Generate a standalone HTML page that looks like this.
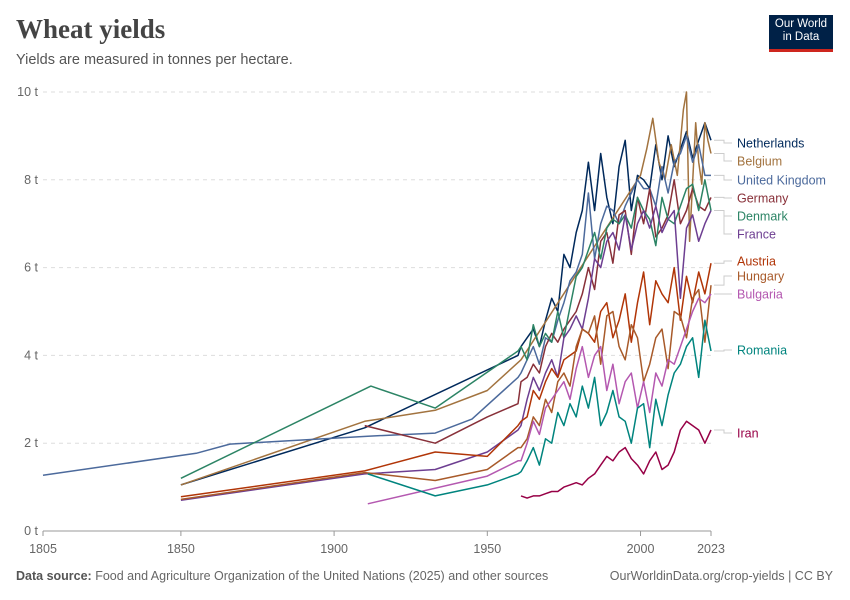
<!DOCTYPE html>
<html><head><meta charset="utf-8"><style>
body{margin:0;background:#fff;font-family:"Liberation Sans",sans-serif;}
#wrap{position:relative;width:850px;height:600px;overflow:hidden;}
</style></head><body>
<div id="wrap">
<div style="position:absolute;left:16px;top:14px;font-family:'Liberation Serif',serif;font-size:27px;color:#444;font-weight:bold;">Wheat yields</div>
<div style="position:absolute;left:16px;top:52px;font-size:14.5px;color:#555;">Yields are measured in tonnes per hectare.</div>
<div style="position:absolute;left:769px;top:15px;width:64px;height:37px;background:#002147;border-bottom:3px solid #ce261e;color:#fff;font-size:11.5px;line-height:13px;text-align:center;padding-top:3px;box-sizing:border-box;">Our World<br>in Data</div>
<svg id="chart" width="850" height="600" style="position:absolute;left:0;top:0"></svg>
<div style="position:absolute;left:16px;top:569px;font-size:12.5px;color:#666;"><b style="color:#555">Data source:</b> Food and Agriculture Organization of the United Nations (2025) and other sources</div>
<div style="position:absolute;right:17px;top:569px;font-size:12.5px;color:#666;">OurWorldinData.org/crop-yields | CC BY</div>
</div>
<script>
const MODERN_YEARS=[1961,1963,1965,1967,1969,1971,1973,1975,1977,1979,1981,1983,1985,1987,1989,1991,1993,1995,1997,1999,2001,2003,2005,2007,2009,2011,2013,2015,2017,2019,2021,2023];
const nlYears=[1850,1910,1960].concat(MODERN_YEARS);
const nlValues=[1.05,2.35,4.0, 4.2,4.4,4.6,4.2,4.8,5.3,5.0,6.3,6.0,6.8,7.3,8.4,7.3,8.6,7.6,7.0,8.3,8.9,7.3,8.1,8.0,7.8,8.8,8.0,9.0,8.3,8.7,9.1,8.5,8.9,9.3,8.9];
const ukYears=[1805,1855,1866,1911,1933,1945,1960].concat(MODERN_YEARS);
const ukValues=[1.27,1.77,1.98,2.16,2.23,2.55,3.5, 3.6,3.9,4.2,3.8,4.4,4.3,4.8,5.2,5.7,5.9,6.3,7.7,6.2,7.0,7.4,7.3,7.0,7.4,7.7,8.0,7.8,7.8,7.4,8.3,7.7,8.4,8.6,9.0,8.4,8.8,8.1,8.1];
const beYears=[1850,1910,1933,1950,1961,2000,2002,2004,2006,2008,2010,2012,2014,2015,2016,2018,2019,2020,2021,2022,2023];
const beValues=[1.05,2.5,2.75,3.2,3.9,8.1,8.7,9.4,8.4,8.0,8.8,8.1,9.6,10.0,6.6,9.3,8.4,7.9,9.3,8.9,8.6];
const deYears=[1910,1933,1950,1960].concat(MODERN_YEARS);
const deValues=[2.4,2.0,2.6,2.9, 3.4,3.5,3.8,3.6,4.2,4.5,4.3,4.6,4.8,5.0,5.4,6.0,5.5,6.6,6.8,6.1,7.2,7.3,6.3,7.6,7.0,7.8,6.7,6.9,7.2,8.0,7.0,7.3,7.8,7.4,7.3,7.6];
const dkYears=[1850,1912,1933,1960].concat(MODERN_YEARS);
const dkValues=[1.2,3.3,2.8,4.1, 4.2,3.9,4.7,4.2,4.5,4.3,5.0,4.4,5.1,5.8,6.0,6.4,6.8,6.2,6.9,7.1,7.0,7.2,6.9,7.6,7.3,7.1,6.5,7.6,7.1,7.0,7.4,7.8,7.9,7.3,8.0,7.3];
const frYears=[1850,1910,1933,1950,1960].concat(MODERN_YEARS);
const frValues=[0.7,1.3,1.4,1.8,2.3, 2.4,3.0,3.5,3.2,3.6,3.9,3.5,4.4,4.6,4.9,4.6,5.3,6.2,6.0,6.6,6.8,6.4,7.2,6.4,7.0,7.3,6.9,7.4,6.8,7.1,7.3,5.3,6.9,7.2,6.6,7.0,7.3];
const atYears=[1850,1910,1933,1950,1960].concat(MODERN_YEARS);
const atValues=[0.78,1.37,1.8,1.7,2.4, 2.5,2.6,3.2,3.0,3.4,3.7,3.5,3.9,4.0,4.1,4.6,4.5,4.3,5.0,5.2,4.4,4.8,5.4,4.3,5.2,5.9,4.7,5.7,5.4,5.2,6.0,4.8,5.8,5.2,5.9,5.4,6.1];
const huYears=[1850,1910,1933,1950,1960].concat(MODERN_YEARS);
const huValues=[0.72,1.33,1.15,1.4,1.9, 1.9,2.1,2.6,2.4,3.0,2.7,3.4,3.6,3.3,4.2,4.6,4.5,4.9,3.8,4.9,5.0,4.2,3.9,4.7,4.4,3.4,3.8,4.4,4.6,3.7,5.0,4.9,4.4,5.3,5.5,4.3,5.6];
const bgYears=[1911,1950,1960].concat(MODERN_YEARS);
const bgValues=[0.62,1.25,1.6, 1.6,2.0,2.5,2.2,2.8,3.0,3.2,3.4,3.0,3.7,4.2,3.5,4.0,4.2,3.2,3.8,2.9,3.4,3.6,2.8,3.4,2.7,3.6,3.3,3.9,3.8,4.2,4.6,5.0,5.3,5.2,5.4];
const roYears=[1911,1933,1950,1960].concat(MODERN_YEARS);
const roValues=[1.3,0.8,1.05,1.3, 1.35,1.6,1.9,1.5,2.1,2.0,2.7,2.4,2.9,2.6,3.3,2.8,3.5,2.4,2.7,3.2,2.6,2.5,2.0,2.8,2.9,1.9,3.0,2.4,3.1,3.6,3.8,4.2,4.4,3.5,4.8,4.1];
const irYears=MODERN_YEARS;
const irValues=[0.8,0.75,0.8,0.8,0.85,0.9,0.9,1.0,1.05,1.1,1.05,1.2,1.3,1.5,1.7,1.6,1.8,1.9,1.65,1.5,1.3,1.6,1.8,1.4,1.5,1.8,2.3,2.5,2.4,2.3,2.0,2.3];
const yTicks=[0,2,4,6,8,10];
const xTicks=[1805,1850,1900,1950,2000,2023];
const series=[
 {name:"Netherlands",color:"#00295b",years:nlYears,values:nlValues,ly:143},
 {name:"Belgium",color:"#a2733f",years:beYears,values:beValues,ly:161},
 {name:"United Kingdom",color:"#4c6a9c",years:ukYears,values:ukValues,ly:180},
 {name:"Germany",color:"#883039",years:deYears,values:deValues,ly:198},
 {name:"Denmark",color:"#2c8465",years:dkYears,values:dkValues,ly:216},
 {name:"France",color:"#6d3e91",years:frYears,values:frValues,ly:234},
 {name:"Austria",color:"#b13507",years:atYears,values:atValues,ly:261},
 {name:"Hungary",color:"#a85a2a",years:huYears,values:huValues,ly:276},
 {name:"Bulgaria",color:"#b458b0",years:bgYears,values:bgValues,ly:294},
 {name:"Romania",color:"#00847e",years:roYears,values:roValues,ly:350},
 {name:"Iran",color:"#970046",years:irYears,values:irValues,ly:433}
];
const NS="http://www.w3.org/2000/svg";
const svg=document.getElementById('chart');
const X0=43,X1=711,Y0=531,Y1=92;
function xs(y){return X0+(y-1805)/(2023-1805)*(X1-X0);}
function ys(v){return Y0-v/10*(Y0-Y1);}
function mk(t,a){const e=document.createElementNS(NS,t);for(const k in a)e.setAttribute(k,a[k]);svg.appendChild(e);return e;}
yTicks.forEach(v=>{
 const l=mk('line',{x1:X0,x2:X1,y1:ys(v),y2:ys(v),stroke:v===0?'#999':'#ddd','stroke-dasharray':v===0?'':'4,4'});
 
 
 const t=mk('text',{x:38,y:ys(v)+4,'text-anchor':'end','font-size':'12.5',fill:'#666','font-family':'Liberation Sans, sans-serif'});
 t.textContent=v+' t';
 
 
});
xTicks.forEach(y=>{
 const l=mk('line',{x1:xs(y),x2:xs(y),y1:Y0,y2:Y0+5,stroke:'#999'});
 
 
 const t=mk('text',{x:xs(y),y:553,'text-anchor':'middle','font-size':'12.5',fill:'#666','font-family':'Liberation Sans, sans-serif'});
 t.textContent=y;
 
 
});
series.forEach(s=>{
 const d=s.years.map((y,i)=>(i?'L':'M')+xs(y).toFixed(1)+','+ys(s.values[i]).toFixed(1)).join('');
 const p=mk('path',{d:d,fill:'none',stroke:s.color,'stroke-width':1.5,'stroke-linejoin':'round'});
 
 
 const ey=ys(s.values[s.values.length-1]);
 const c=mk('path',{d:`M${X1+3},${ey}H${X1+13}V${s.ly}H${X1+21}`,fill:'none',stroke:'#ccc','stroke-width':1});
 
 
 const t=mk('text',{x:737,y:s.ly+4.5,'font-size':'12.5',fill:s.color,'font-family':'Liberation Sans, sans-serif'});
 t.textContent=s.name;
 
 
});
</script>
</body></html>
